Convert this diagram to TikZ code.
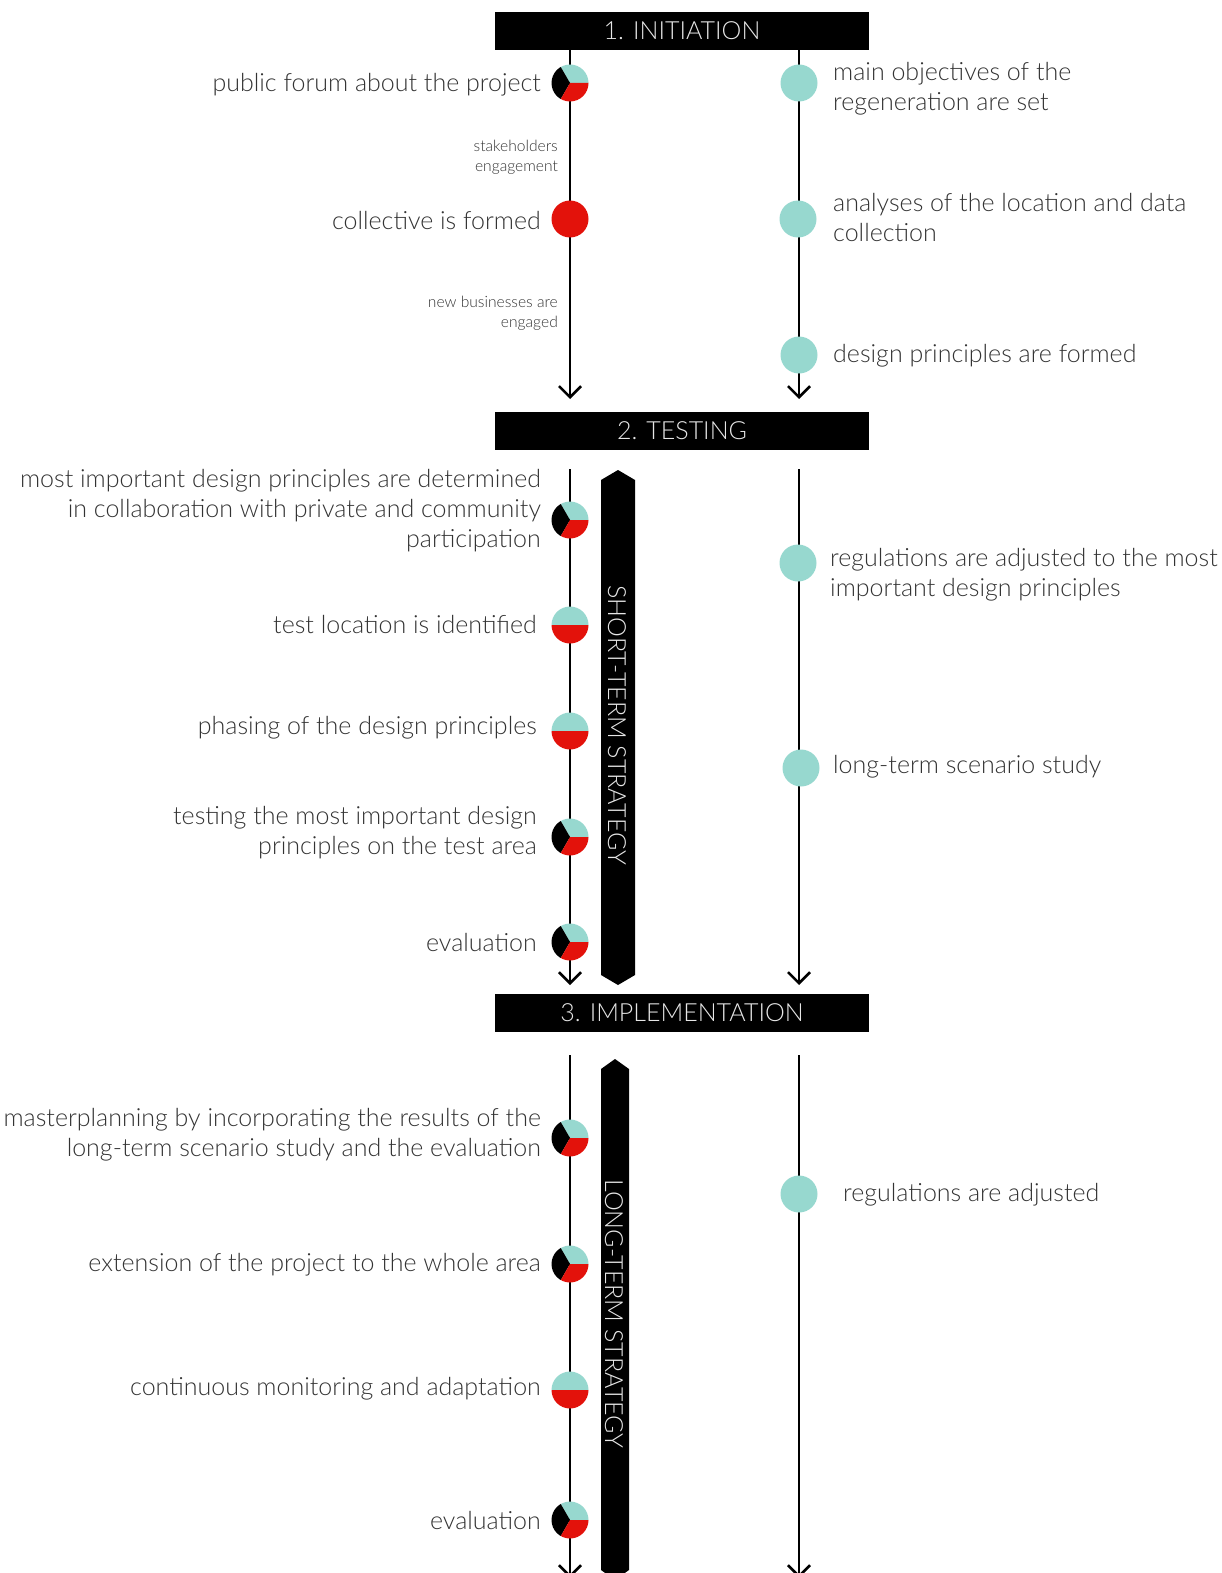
\documentclass[tikz,border=0pt]{standalone}
\usepackage{fontspec}
\IfFontExistsTF{Lato Light}{\setmainfont{Lato Light}}{\setmainfont{Lato}}
\usetikzlibrary{arrows.meta,backgrounds}
\definecolor{tealc}{HTML}{97D8CF}
\definecolor{redc}{HTML}{E3120B}
\definecolor{txt}{HTML}{333333}
\definecolor{hdr}{HTML}{E6E6E6}
\tikzset{
  x=1pt,y=-1pt,
  bar/.style={fill=black,draw=none,minimum width=374pt,minimum height=38pt,inner sep=0,text=hdr,font=\fontsize{25}{30}\selectfont},
  lbl/.style={text=txt,inner sep=0,font=\fontsize{25}{30}\selectfont},
  lft/.style={lbl,anchor=east,align=right},
  rgt/.style={lbl,anchor=west,align=left},
  small/.style={text=txt,inner sep=0,anchor=east,align=right,font=\fontsize{15.6}{20}\selectfont},
  dot/.style={circle,minimum size=37pt,inner sep=0,draw=none},
  tealdot/.style={dot,fill=tealc},
  reddot/.style={dot,fill=redc},
  pie/.style={dot,path picture={
     \fill[tealc] (path picture bounding box.center) -- ++(0:20pt) arc[start angle=0,end angle=120,radius=20pt] -- cycle;
     \fill[black] (path picture bounding box.center) -- ++(120:20pt) arc[start angle=120,end angle=240,radius=20pt] -- cycle;
     \fill[redc] (path picture bounding box.center) -- ++(240:20pt) arc[start angle=240,end angle=360,radius=20pt] -- cycle;}},
  half/.style={dot,path picture={
     \fill[tealc] (path picture bounding box.center) ++(-20pt,0) rectangle ++(40pt,20pt);
     \fill[redc] (path picture bounding box.center) ++(-20pt,0) rectangle ++(40pt,-20pt);}},
  flow/.style={line width=2.6pt,black,-{Straight Barb[length=11pt,width=22pt,line width=2.6pt]}},
  strat/.style={fill=black,draw=none},
  strattext/.style={text=hdr,rotate=-90,inner sep=0,font=\fontsize{25}{28}\selectfont}
}
\begin{document}
\begin{tikzpicture}
\useasboundingbox (0,0) rectangle (1222,1573);

% headers
\node[bar] (h1) at (682,31) {1. INITIATION};
\node[bar] (h2) at (682,431) {2. TESTING};
\node[bar] (h3) at (682,1013) {3. IMPLEMENTATION};

% strategy bars
\path[strat] (601,480) -- (618,470) -- (635,480) -- (635,975) -- (618,985) -- (601,975) -- cycle;
\node[strattext] (st) at (617,725) {SHORT-TERM STRATEGY};
\path[strat] (601,1069) -- (615,1059) -- (629,1069) -- (629,1570) -- (615,1580) -- (601,1570) -- cycle;
\node[strattext] (lt) at (614,1314) {LONG-TERM STRATEGY};

% ---- initiation
\node[pie] (a1) at (570,83) {};
\node[reddot] (a2) at (570,219) {};
\node[tealdot] (b1) at (799,83) {};
\node[tealdot] (b2) at (798,219) {};
\node[tealdot] (b3) at (799,355) {};
\coordinate (a0) at (570,49);
\coordinate (aE) at (570,399);
\coordinate (b0) at (799,49);
\coordinate (bE) at (799,399);

\node[lft] (ta1) at (541,85) {public forum about the project};
\node[small] (ts1) at (558,157) {stakeholders\\engagement};
\node[lft] (ta2) at (541,221) {collective is formed};
\node[small] (ts2) at (558,313) {new businesses are\\engaged};
\node[rgt] (tb1) at (833,89) {main objectives of the\\regeneration are set};
\node[rgt] (tb2) at (833,218) {analyses of the location and data\\collection};
\node[rgt] (tb3) at (833,356) {design principles are formed};

% ---- testing
\node[pie] (c1) at (570,520) {};
\node[half] (c2) at (570,625) {};
\node[half] (c3) at (570,731) {};
\node[pie] (c4) at (570,837) {};
\node[pie] (c5) at (570,942) {};
\node[tealdot] (d1) at (798,563) {};
\node[tealdot] (d2) at (801,768) {};
\coordinate (c0) at (570,469);
\coordinate (cE) at (570,985);
\coordinate (d0) at (799,469);
\coordinate (dE) at (799,985);

\node[lft] (tc1) at (541,511) {most important design principles are determined\\in collaboration with private and community\\participation};
\node[lft] (tc2) at (537,624) {test location is identified};
\node[lft] (tc3) at (537,728) {phasing of the design principles};
\node[lft] (tc4) at (537,833) {testing the most important design\\principles on the test area};
\node[lft] (tc5) at (537,942) {evaluation};
\node[rgt] (td1) at (830,575) {regulations are adjusted to the most\\important design principles};
\node[rgt] (td2) at (833,767) {long-term scenario study};

% ---- implementation
\node[pie] (e1) at (570,1138) {};
\node[pie] (e2) at (570,1264) {};
\node[half] (e3) at (570,1390) {};
\node[pie] (e4) at (570,1520) {};
\node[tealdot] (f1) at (799,1194) {};
\coordinate (e0) at (570,1055);
\coordinate (eE) at (570,1578);
\coordinate (f0) at (799,1055);
\coordinate (fE) at (799,1578);

\node[lft] (te1) at (541,1135) {masterplanning by incorporating the results of the\\long-term scenario study and the evaluation};
\node[lft] (te2) at (541,1265) {extension of the project to the whole area};
\node[lft] (te3) at (541,1389) {continuous monitoring and adaptation};
\node[lft] (te4) at (541,1520) {evaluation};
\node[rgt] (tf1) at (843,1195) {regulations are adjusted};

\begin{scope}[on background layer]
\draw[flow] (a0) -- (aE);
\draw[flow] (b0) -- (bE);
\draw[flow] (c0) -- (cE);
\draw[flow] (d0) -- (dE);
\draw[flow] (e0) -- (eE);
\draw[flow] (f0) -- (fE);
\end{scope}
\end{tikzpicture}
\end{document}
